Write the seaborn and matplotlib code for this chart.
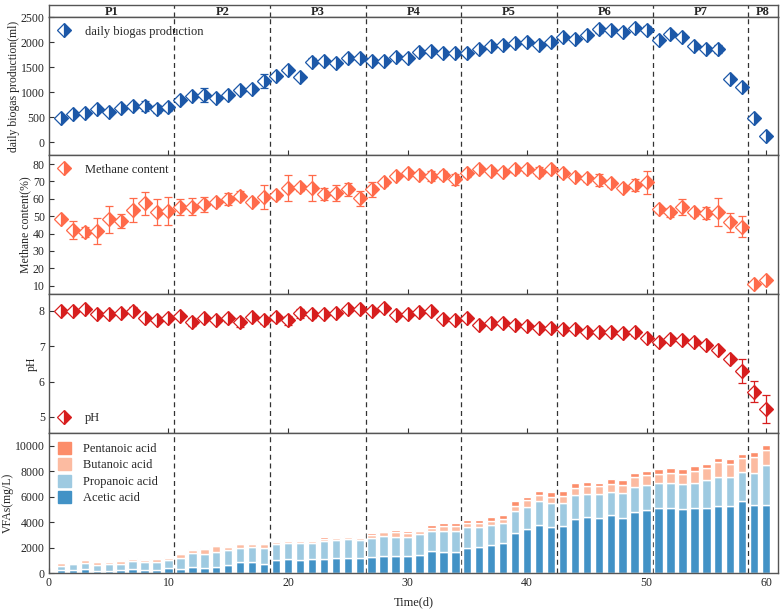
import numpy as np
import matplotlib
matplotlib.use("Agg")
import matplotlib.pyplot as plt
import matplotlib.patches as mpatches
from matplotlib.lines import Line2D
import seaborn as sns

sns.set_theme(style="ticks")
plt.rcParams["font.family"] = ["Liberation Serif", "DejaVu Serif"]
plt.rcParams["axes.edgecolor"] = "#555555"

# ── data ─────────────────────────────────────────────────────────────────────
days = np.arange(1, 61)

biogas = [480, 567, 575, 660, 607, 680, 713, 727, 660, 700,
          847, 927, 947, 873, 947, 1033, 1067, 1227, 1320, 1447,
          1307, 1607, 1620, 1580, 1687, 1680, 1627, 1627, 1700, 1680,
          1793, 1813, 1780, 1780, 1780, 1860, 1913, 1933, 1980, 1993,
          1947, 2000, 2100, 2067, 2147, 2260, 2233, 2200, 2280, 2247,
          2047, 2160, 2093, 1913, 1860, 1860, 1267, 1100, 480, 113]
biogas_err = [40, 40, 40, 40, 40, 60, 40, 100, 80, 70,
              40, 40, 140, 50, 40, 40, 40, 140, 40, 40,
              40, 70, 50, 40, 60, 50, 40, 50, 40, 40,
              40, 40, 40, 40, 40, 40, 40, 40, 40, 40,
              40, 40, 40, 50, 40, 70, 40, 40, 40, 70,
              40, 60, 40, 40, 40, 80, 40, 40, 40, 40]

methane = [48.3, 42.0, 41.0, 41.6, 48.1, 47.2, 53.5, 57.4, 52.6, 53.1,
           55.4, 55.4, 56.8, 57.9, 59.8, 61.8, 57.9, 61.2, 62.1, 66.0,
           66.6, 66.4, 62.7, 63.5, 65.4, 60.2, 65.4, 69.6, 73.3, 75.0,
           73.7, 73.1, 73.7, 71.2, 74.6, 77.1, 76.0, 75.2, 76.9, 77.1,
           75.6, 77.1, 74.6, 72.7, 71.7, 70.8, 68.9, 66.0, 67.9, 69.4,
           54.1, 52.2, 55.4, 52.2, 52.0, 52.2, 46.4, 43.9, 10.7, 13.2]
methane_err = [1.5, 5, 3, 7.5, 8, 4, 7, 6.5, 7.5, 8,
               4.5, 5, 4.5, 2, 3.5, 2.5, 1.5, 7, 2, 7.5,
               2, 7.5, 3.5, 4.5, 3.5, 4.5, 4.5, 2, 1.5, 1.5,
               1.5, 3, 2.5, 3, 2, 1.5, 2, 1.5, 2, 2,
               2.5, 1.5, 2, 1.5, 2, 3.5, 2, 1.5, 3.5, 6.5,
               2, 2.5, 4.5, 2, 3.5, 8, 5.5, 6, 1, 1.5]

ph = [8.01, 8.00, 8.06, 7.91, 7.91, 7.95, 8.00, 7.79, 7.73, 7.81,
      7.86, 7.68, 7.79, 7.73, 7.79, 7.68, 7.84, 7.73, 7.82, 7.73,
      7.93, 7.91, 7.91, 7.95, 8.05, 8.05, 8.00, 8.07, 7.89, 7.91,
      7.96, 8.00, 7.77, 7.74, 7.79, 7.60, 7.65, 7.65, 7.60, 7.56,
      7.51, 7.51, 7.49, 7.48, 7.39, 7.41, 7.41, 7.37, 7.39, 7.24,
      7.13, 7.20, 7.18, 7.11, 7.04, 6.89, 6.63, 6.30, 5.71, 5.21]
ph_err = [0.04, 0.04, 0.04, 0.05, 0.08, 0.04, 0.1, 0.04, 0.04, 0.04,
          0.04, 0.12, 0.05, 0.05, 0.1, 0.13, 0.04, 0.1, 0.1, 0.12,
          0.12, 0.1, 0.04, 0.04, 0.04, 0.04, 0.04, 0.05, 0.04, 0.04,
          0.08, 0.06, 0.04, 0.04, 0.04, 0.04, 0.04, 0.04, 0.04, 0.04,
          0.04, 0.04, 0.04, 0.04, 0.04, 0.04, 0.04, 0.04, 0.1, 0.05,
          0.04, 0.04, 0.04, 0.04, 0.05, 0.05, 0.08, 0.35, 0.3, 0.4]

acetic = [210, 220, 290, 180, 150, 210, 290, 230, 260, 390,
          320, 500, 370, 500, 600, 840, 850, 700, 1020, 1080,
          1000, 1100, 1100, 1180, 1180, 1200, 1260, 1360, 1310, 1310,
          1440, 1730, 1650, 1660, 2000, 2020, 2180, 2340, 3150, 3490,
          3810, 3650, 3700, 4230, 4380, 4360, 4570, 4330, 4830, 4960,
          5120, 5070, 5010, 5070, 5120, 5300, 5300, 5670, 5380, 5330]
propanoic = [370, 460, 470, 480, 560, 530, 680, 660, 630, 660,
             890, 1100, 1100, 1130, 1190, 1160, 1180, 1270, 1290, 1280,
             1360, 1290, 1420, 1450, 1470, 1430, 1470, 1550, 1500, 1530,
             1610, 1580, 1660, 1670, 1600, 1630, 1570, 1620, 1710, 1730,
             1860, 1860, 1810, 1890, 1820, 1810, 1780, 1970, 1940, 1970,
             1940, 1970, 1950, 2020, 2180, 2260, 2260, 2260, 2500, 3150]
butanoic = [170, 130, 230, 170, 180, 220, 150, 150, 200, 150,
            300, 230, 450, 480, 290, 250, 280, 280, 150, 160,
            160, 160, 160, 130, 160, 130, 240, 290, 400, 300,
            240, 260, 420, 400, 330, 290, 340, 310, 440, 480,
            470, 500, 530, 550, 600, 630, 630, 600, 740, 760,
            740, 840, 840, 940, 920, 1130, 1020, 1070, 1200, 1180]
pentanoic = [40, 30, 40, 40, 30, 40, 40, 40, 40, 40,
             70, 40, 50, 70, 50, 60, 60, 60, 60, 50,
             50, 50, 130, 80, 80, 80, 180, 130, 150, 140,
             120, 180, 180, 180, 250, 260, 290, 320, 320, 310,
             320, 340, 370, 390, 370, 310, 370, 400, 340, 340,
             360, 360, 360, 370, 360, 370, 350, 350, 400, 420]

period_edges = [0, 10.5, 18.5, 26.5, 34.5, 42.5, 50.5, 58.5, 61]
period_names = ["P1", "P2", "P3", "P4", "P5", "P6", "P7", "P8"]

c_biogas, c_methane, c_ph = "#1c58a8", "#ff6a4a", "#d71e1e"
c_ac, c_pr, c_bu, c_pe = "#4292c6", "#9ecae1", "#fcbba1", "#fc8d6a"

# ── layout ───────────────────────────────────────────────────────────────────
fig = plt.figure(figsize=(7.81, 6.12), dpi=100)
gs = fig.add_gridspec(5, 1, height_ratios=[12, 138, 139, 139, 140], hspace=0,
                      left=0.0627, right=0.9962, top=0.9918, bottom=0.0637)
axh = fig.add_subplot(gs[0])
axes = [fig.add_subplot(gs[i], sharex=axh) for i in range(1, 5)]

for ax in [axh] + axes:
    ax.set_xlim(0, 61)
    for x in period_edges[1:-1]:
        ax.axvline(x, color="#333333", lw=0.9, ls=(0, (4, 3)), zorder=0)
    for s in ax.spines.values():
        s.set_linewidth(1.0)
    ax.tick_params(direction="in", labelsize=8.5, length=3.5, width=0.8,
                   color="#333333", pad=3)

axh.set_yticks([])
axh.tick_params(axis="x", bottom=False, labelbottom=False)
for i, name in enumerate(period_names):
    axh.text((period_edges[i] + period_edges[i + 1]) / 2, 0.45, name,
             ha="center", va="center", fontsize=9, fontweight="bold",
             transform=axh.get_xaxis_transform())


def diamonds(ax, y, err, color, label):
    ax.errorbar(days, y, yerr=err, fmt="D", ms=6.8, color=color,
                mfc=color, mec=color, mfcalt="white", fillstyle="right",
                mew=0.9, ecolor=color, elinewidth=0.9, capsize=3,
                capthick=0.9, label=label, zorder=3)
    return Line2D([], [], marker="D", ls="none", ms=7.5, color=color, mfc=color,
                  mec=color, mfcalt="white", fillstyle="right", mew=0.9)


LAB = dict(fontsize=8.5, labelpad=1)
LEG = dict(frameon=False, fontsize=9, handlelength=1.0, handletextpad=1.2,
           borderaxespad=0.3)

# biogas
ax = axes[0]
h = diamonds(ax, biogas, biogas_err, c_biogas, "daily biogas production")
ax.set_ylim(-260, 2500)
ax.set_yticks(np.arange(0, 2501, 500))
ax.set_ylabel("daily biogas production(ml)", **LAB)
ax.legend([h], ["daily biogas production"], loc="upper left", **LEG)

# methane
ax = axes[1]
h = diamonds(ax, methane, methane_err, c_methane, "Methane content")
ax.set_ylim(5.2, 85.2)
ax.set_yticks(np.arange(10, 81, 10))
ax.set_ylabel("Methane content(%)", **LAB)
ax.legend([h], ["Methane content"], loc="upper left", **LEG)

# pH
ax = axes[2]
h = diamonds(ax, ph, ph_err, c_ph, "pH")
ax.set_ylim(4.54, 8.48)
ax.set_yticks([5, 6, 7, 8])
ax.set_ylabel("pH", **LAB)
ax.legend([h], ["pH"], loc="lower left", **LEG)

# VFAs stacked
ax = axes[3]
acetic, propanoic, butanoic, pentanoic = map(np.array, (acetic, propanoic, butanoic, pentanoic))
w = 0.7
ax.bar(days, acetic, width=w, color=c_ac, zorder=2)
ax.bar(days, propanoic, width=w, bottom=acetic, color=c_pr, zorder=2)
ax.bar(days, butanoic, width=w, bottom=acetic + propanoic, color=c_bu, zorder=2)
ax.bar(days, pentanoic, width=w, bottom=acetic + propanoic + butanoic, color=c_pe, zorder=2)
ax.set_ylim(0, 11000)
ax.set_yticks(np.arange(0, 10001, 2000))
ax.set_ylabel("VFAs(mg/L)", **LAB)
ax.set_xlabel("Time(d)", fontsize=9, labelpad=5)
ax.set_xticks(np.arange(0, 61, 10))
handles = [mpatches.Patch(color=c) for c in (c_pe, c_bu, c_pr, c_ac)]
ax.legend(handles, ["Pentanoic acid", "Butanoic acid", "Propanoic acid", "Acetic acid"],
          loc="upper left", frameon=False, fontsize=9, handlelength=1.1,
          handleheight=1.1, handletextpad=0.9, labelspacing=0.25,
          borderaxespad=0.3)

for ax in axes[:-1]:
    ax.tick_params(axis="x", labelbottom=False)

fig.savefig("out.png", dpi=100)
